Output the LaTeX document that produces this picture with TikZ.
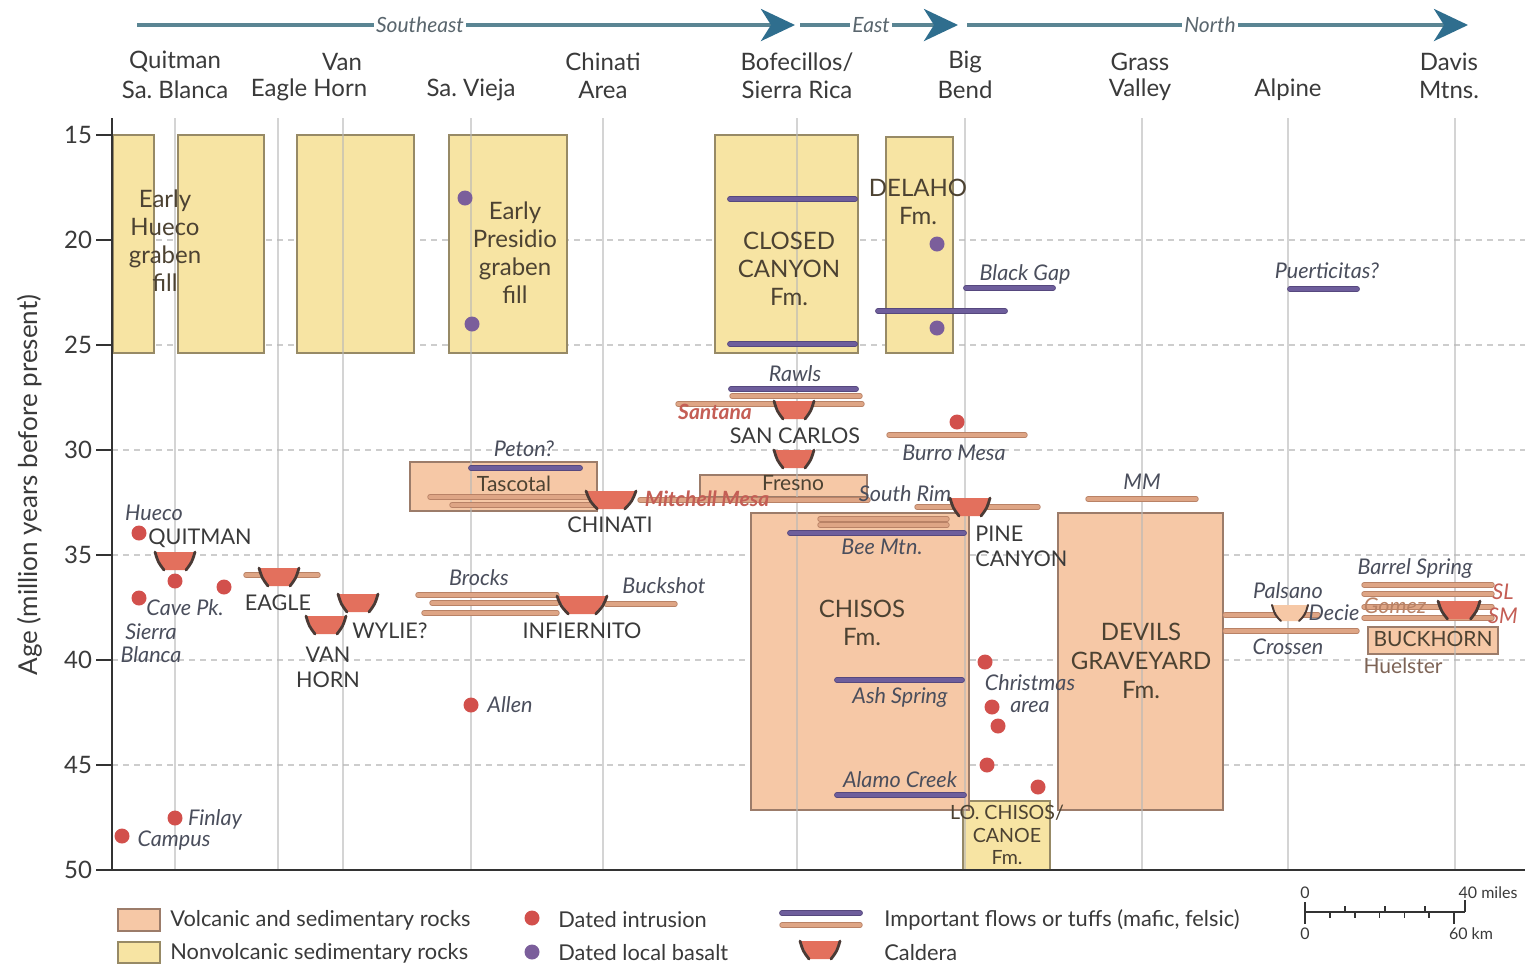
\documentclass[tikz,border=0pt]{standalone}
\usepackage{fontspec}
\setmainfont{Lato}
\usetikzlibrary{arrows.meta}
\definecolor{txt}{HTML}{3A3A3A}
\definecolor{ytx}{HTML}{4C4232}
\definecolor{itx}{HTML}{4A4E5C}
\definecolor{yfill}{HTML}{F7E4A3}
\definecolor{ydraw}{HTML}{978A66}
\definecolor{pfill}{HTML}{F6C8A6}
\definecolor{pdraw}{HTML}{9C7C6A}
\definecolor{gridc}{HTML}{B8B8B8}
\definecolor{hgridc}{HTML}{CDCDCD}
\definecolor{maf}{HTML}{6E5E9C}
\definecolor{mafd}{HTML}{56487E}
\definecolor{fel}{HTML}{DEA585}
\definecolor{feld}{HTML}{B98266}
\definecolor{rdot}{HTML}{D2504C}
\definecolor{pdot}{HTML}{7B5E9B}
\definecolor{calf}{HTML}{E3705D}
\definecolor{cald}{HTML}{4A3A35}
\definecolor{arr}{HTML}{2F6E8E}
\definecolor{arrl}{HTML}{5A8593}
\definecolor{arrt}{HTML}{5A666E}
\definecolor{redtx}{HTML}{C45E55}
\definecolor{axc}{HTML}{333333}
\begin{document}
\begin{tikzpicture}[x=0.5pt,y=-0.5pt,
  head/.style={font=\fontsize{12}{14}\selectfont, text=txt, inner sep=0pt},
  fm/.style={font=\fontsize{12}{14}\selectfont, text=ytx, align=center, inner sep=0pt},
  capl/.style={font=\fontsize{10.8}{12.5}\selectfont, text=txt, align=center, inner sep=0pt},
  itl/.style={font=\fontsize{10.8}{11.5}\selectfont\itshape, text=itx, align=center, inner sep=0pt},
  redl/.style={font=\fontsize{10.5}{12}\selectfont\bfseries\itshape, text=redtx, inner sep=0pt},
  ybox/.style={fill=yfill, draw=ydraw, line width=0.9pt},
  pbox/.style={fill=pfill, draw=pdraw, line width=0.9pt},
  vgrid/.style={draw=gridc, line width=1.4pt, opacity=0.6},
  hgrid/.style={draw=hgridc, line width=0.8pt, dash pattern=on 3pt off 2.5pt},
  axis/.style={draw=axc, line width=1.4pt},
  mafic/.style={preaction={draw=mafd, line width=2.9pt, line cap=round}, draw=maf, line width=2pt, line cap=round},
  felsic/.style={preaction={draw=feld, line width=2.7pt, line cap=round}, draw=fel, line width=1.8pt, line cap=round},
  dirarrow/.style={draw=arrl, line width=2pt, -{Stealth[length=17pt,width=16pt,inset=5pt,color=arr,fill=arr]}},
  dirlab/.style={font=\fontsize{10.5}{12}\selectfont\itshape, text=arrt, fill=white, inner sep=1pt},
  ticklab/.style={font=\fontsize{12}{13}\selectfont, text=txt, inner sep=0pt},
  legt/.style={font=\fontsize{10.9}{12}\selectfont, text=txt, inner sep=0pt, anchor=west},
  sclt/.style={font=\fontsize{8}{9}\selectfont, text=txt, inner sep=0pt},
  caldera/.pic={
    \fill[calf] (-20,-9) -- (20,-9) -- (11,9) -- (-11,9) -- cycle;
    \draw[cald, line width=1.4pt, line cap=round] (-20,-9) .. controls (-17,1) .. (-11,9);
    \draw[cald, line width=1.4pt, line cap=round] (20,-9) .. controls (17,1) .. (11,9);
  },
  opencaldera/.pic={
    \fill[pfill] (-18,-8) -- (18,-8) -- (9,8) -- (-9,8) -- cycle;
    \draw[cald, line width=1pt, line cap=round] (-18,-8) .. controls (-15,2) .. (-9,8);
    \draw[cald, line width=1pt, line cap=round] (18,-8) .. controls (15,2) .. (9,8);
  }
]
\useasboundingbox (0,0) rectangle (1530,966);
\fill[white] (0,0) rectangle (1530,966);

% direction arrows
\coordinate (se0) at (137,25); \coordinate (se1) at (795,25);
\coordinate (ea0) at (800,25); \coordinate (ea1) at (958,25);
\coordinate (no0) at (967,25); \coordinate (no1) at (1468,25);
\draw[dirarrow] (se0) -- (se1) node[dirlab, pos=0.43] (seL) {Southeast};
\draw[dirarrow] (ea0) -- (ea1) node[dirlab, pos=0.45] (eaL) {East};
\draw[dirarrow] (no0) -- (no1) node[dirlab, pos=0.485] (noL) {North};

% column headers
\node[head] (h1a) at (175,62) {Quitman};
\node[head] (h1b) at (175,90) {Sa.\ Blanca};
\node[head] (h2a) at (342,62) {Van};
\node[head] (h2b) at (309,90) {Eagle Horn};
\node[head] (h3) at (471,90) {Sa.\ Vieja};
\node[head] (h4a) at (603,62) {Chinati};
\node[head] (h4b) at (603,90) {Area};
\node[head] (h5a) at (797,62) {Bofecillos/};
\node[head] (h5b) at (797,90) {Sierra Rica};
\node[head] (h6a) at (965,62) {Big};
\node[head] (h6b) at (965,90) {Bend};
\node[head] (h7a) at (1140,62) {Grass};
\node[head] (h7b) at (1140,90) {Valley};
\node[head] (h8) at (1288,90) {Alpine};
\node[head] (h9a) at (1449,62) {Davis};
\node[head] (h9b) at (1449,90) {Mtns.};

% horizontal dashed grid
\foreach \yy in {240,345,450,555,660,765} { \draw[hgrid] (112,\yy) -- (1525,\yy); }

% nonvolcanic boxes
\draw[ybox] (113,135) rectangle (154,353);
\draw[ybox] (178,135) rectangle (264,353);
\draw[ybox] (297,135) rectangle (414,353);
\draw[ybox] (449,135) rectangle (567,353);
\draw[ybox] (715,135) rectangle (858,353);
\draw[ybox] (886,137) rectangle (953,353);
\draw[ybox] (963,801) rectangle (1050,870);

% volcanic boxes
\draw[pbox] (410,462) rectangle (597,511);
\draw[pbox] (700,475) rectangle (867,497);
\draw[pbox] (751,513) rectangle (969,810);
\draw[pbox] (1058,513) rectangle (1223,810);
\draw[pbox] (1368,627) rectangle (1498,654);

% vertical grid
\foreach \xx in {175,278,343,471,603,797,965,1142,1288,1455} { \draw[vgrid] (\xx,118) -- (\xx,870); }

% axes
\draw[axis] (112,118) -- (112,870) -- (1525,870);
\foreach \v [count=\i from 0] in {15,20,25,30,35,40,45,50} {
  \draw[draw=axc, line width=0.9pt] (96,{135+105*\i}) -- (112,{135+105*\i});
  \node[ticklab] (tk\v) at (78,{135+105*\i}) {\v};
}
\node[font=\fontsize{13}{14}\selectfont, text=txt, rotate=90] (ylab) at (30,485) {Age (million years before present)};

% mafic flows
\draw[mafic] (730,199) -- (855,199);
\draw[mafic] (730,344) -- (855,344);
\draw[mafic] (878,311) -- (1005,311);
\draw[mafic] (966,288) -- (1053,288);
\draw[mafic] (1290,289) -- (1357,289);
\draw[mafic] (471,468) -- (580,468);
\draw[mafic] (731,389) -- (856,389);
\draw[mafic] (790,533) -- (964,533);
\draw[mafic] (837,680) -- (962,680);
\draw[mafic] (837,795) -- (964,795);

% felsic flows
\draw[felsic] (732,396) -- (860,396);
\draw[felsic] (678,404) -- (862,404);
\draw[felsic] (430,497) -- (590,497);
\draw[felsic] (452,505) -- (600,505);
\draw[felsic] (640,500) -- (868,500);
\draw[felsic] (889,435) -- (1025,435);
\draw[felsic] (917,507) -- (1038,507);
\draw[felsic] (820,519) -- (947,519);
\draw[felsic] (820,525) -- (947,525);
\draw[felsic] (1088,499) -- (1196,499);
\draw[felsic] (246,575) -- (318,575);
\draw[felsic] (418,595) -- (557,595);
\draw[felsic] (432,603) -- (557,603);
\draw[felsic] (424,613) -- (557,613);
\draw[felsic] (606,604) -- (675,604);
\draw[felsic] (1225,615) -- (1318,615);
\draw[felsic] (1225,631) -- (1357,631);
\draw[felsic] (1364,585) -- (1492,585);
\draw[felsic] (1364,594) -- (1492,594);
\draw[felsic] (1364,607) -- (1492,607);
\draw[felsic] (1364,618) -- (1492,618);

% calderas
\pic (cQ) at (175,561) {caldera};
\pic (cE) at (279,577) {caldera};
\pic (cW) at (358,603) {caldera};
\pic (cV) at (326,625) {caldera};
\pic[xscale=1.25] (cI) at (582,605) {caldera};
\pic[xscale=1.25] (cC) at (611,500) {caldera};
\pic (cS1) at (794,410) {caldera};
\pic (cS2) at (794,459) {caldera};
\pic (cP) at (970,507) {caldera};
\pic[xscale=1.05] (cB) at (1459,610) {caldera};
\pic (cPa) at (1290,613) {opencaldera};

% dots
\foreach \px/\py in {139/533,175/581,224/587,139/598,471/705,175/818,122/836,957/422,985/662,992/707,998/726,987/765,1038/787} { \fill[rdot] (\px,\py) circle (7.5); }
\foreach \px/\py in {465/198,472/324,937/244,937/328} { \fill[pdot] (\px,\py) circle (7.5); }

% formation texts
\node[fm] (tQ) at (165,241) {Early\\Hueco\\graben\\fill};
\node[fm] (tSV) at (515,253) {Early\\Presidio\\graben\\fill};
\node[fm] (tCC) at (789,269) {CLOSED\\CANYON\\Fm.};
\node[fm] (tD) at (918,202) {DELAHO\\Fm.};
\node[fm] (tCh) at (862,623) {CHISOS\\Fm.};
\node[fm, font=\fontsize{12}{14.5}\selectfont] (tDG) at (1141,661) {DEVILS\\GRAVEYARD\\Fm.};
\node[fm, font=\fontsize{9.8}{11.3}\selectfont] (tLC) at (1007,835) {LO. CHISOS/\\CANOE\\Fm.};
\node[fm, font=\fontsize{10.5}{12}\selectfont] (tBH) at (1433,639) {BUCKHORN};
\node[fm, font=\fontsize{10.5}{12}\selectfont] (tTa) at (514,484) {Tascotal};
\node[fm, font=\fontsize{10.5}{12}\selectfont] (tFr) at (793,483) {Fresno};
\node[fm, font=\fontsize{10.5}{12}\selectfont, text=pdraw!80!black] (tHu) at (1403,666) {Huelster};

% caldera names
\node[capl] (nQ) at (200,538) {QUITMAN};
\node[capl] (nE) at (278,603) {EAGLE};
\node[capl] (nW) at (390,631) {WYLIE?};
\node[capl] (nV) at (328,667) {VAN\\HORN};
\node[capl] (nI) at (582,631) {INFIERNITO};
\node[capl] (nC) at (610,525) {CHINATI};
\node[capl] (nS) at (795,436) {SAN CARLOS};
\node[capl, anchor=west, align=left] (nP) at (975,546) {PINE\\CANYON};

% italic labels
\node[itl] (lHu) at (154,513) {Hueco};
\node[itl] (lCP) at (185,608) {Cave Pk.};
\node[itl] (lSB) at (151,643) {Sierra\\Blanca};
\node[itl] (lAl) at (510,705) {Allen};
\node[itl] (lFi) at (215,819) {Finlay};
\node[itl] (lCa) at (174,841) {Campus};
\node[itl] (lPe) at (524,449) {Peton?};
\node[itl] (lBr) at (479,578) {Brocks};
\node[itl] (lBu) at (664,586) {Buckshot};
\node[itl] (lRa) at (795,374) {Rawls};
\node[itl] (lBM) at (954,453) {Burro Mesa};
\node[itl] (lSR) at (905,494) {South Rim};
\node[itl] (lBe) at (882,547) {Bee Mtn.};
\node[itl] (lBG) at (1025,274) {Black Gap};
\node[itl] (lPu) at (1327,271) {Puerticitas?};
\node[itl] (lAS) at (900,697) {Ash Spring};
\node[itl] (lAC) at (900,780) {Alamo Creek};
\node[itl] (lCh) at (1030,683) {Christmas};
\node[itl] (lAr) at (1030,707) {area};
\node[itl] (lMM) at (1142,482) {MM};
\node[itl] (lPa) at (1288,591) {Palsano};
\node[itl] (lDe) at (1334,613) {Decie};
\node[itl] (lCr) at (1288,647) {Crossen};
\node[itl] (lBS) at (1415,568) {Barrel Spring};
\node[itl, text=feld] (lGo) at (1395,606) {Gomez};
\node[itl, text=redtx] (lSL) at (1503,592) {SL};
\node[itl, text=redtx] (lSM) at (1503,616) {SM};
\node[redl] (lSa) at (715,412) {Santana};
\node[redl] (lMi) at (707,499) {Mitchell Mesa};

% legend
\draw[pbox] (118,909) rectangle (160,931);
\draw[ybox] (118,942) rectangle (160,963);
\node[legt] (lg1) at (170,920) {Volcanic and sedimentary rocks};
\node[legt] (lg2) at (170,953) {Nonvolcanic sedimentary rocks};
\fill[rdot] (532,918) circle (7.5);
\fill[pdot] (532,952) circle (7.5);
\node[legt] (lg3) at (558,920) {Dated intrusion};
\node[legt] (lg4) at (558,953) {Dated local basalt};
\draw[mafic] (782,913) -- (860,913);
\draw[felsic] (782,925) -- (860,925);
\node[legt] (lg5) at (884,920) {Important flows or tuffs (mafic, felsic)};
\pic (cL) at (820,950) {caldera};
\node[legt] (lg6) at (884,953) {Caldera};

% scale bar
\coordinate (sb0) at (1305,912); \coordinate (sb1) at (1465,912);
\draw[axc, line width=0.8pt] (sb0) -- (sb1);
\draw[axc, line width=0.8pt] (1305,902) -- (1305,924);
\foreach \k in {1,2,3} { \draw[axc, line width=0.8pt] ({1305+40*\k},912) -- ({1305+40*\k},906); }
\draw[axc, line width=0.8pt] (1465,912) -- (1465,900);
\foreach \k in {1,2,3,4,5} { \draw[axc, line width=0.8pt] ({1305+24.85*\k},912) -- ({1305+24.85*\k},918); }
\draw[axc, line width=0.8pt] (1454,912) -- (1454,924);
\node[sclt] (sc0) at (1305,893) {0};
\node[sclt] (sc1) at (1488,893) {40 miles};
\node[sclt] (sc2) at (1305,934) {0};
\node[sclt] (sc3) at (1471,934) {60 km};
\end{tikzpicture}
\end{document}
